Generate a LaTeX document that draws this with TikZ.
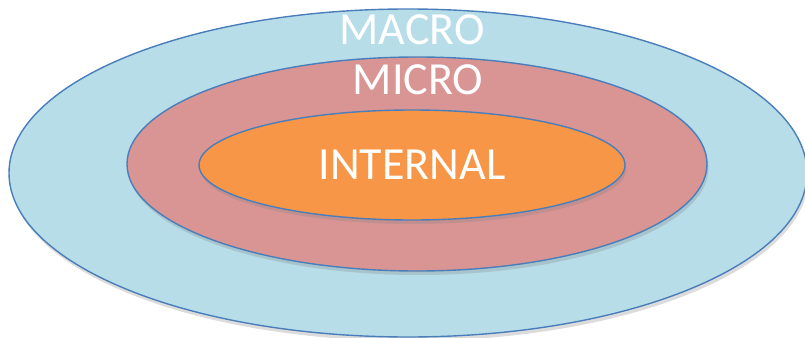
\documentclass[tikz,border=0pt]{standalone}
\usepackage{fontspec}
\setmainfont{Carlito}
\usepackage{xcolor}
\usetikzlibrary{shapes.geometric,shadows}

\definecolor{ringline}{HTML}{4A7EBB}
\definecolor{macrofill}{HTML}{B7DDE8}
\definecolor{microfill}{HTML}{D99594}
\definecolor{internalfill}{HTML}{F79646}

\begin{document}
\begin{tikzpicture}[x=1pt, y=-1pt,
    ring/.style={ellipse, draw=ringline, line width=1.4pt, inner sep=0pt,
        drop shadow={shadow xshift=1.5pt, shadow yshift=-4pt, opacity=0.28}},
    tag/.style={text=white, inner sep=0pt, font=\fontsize{46}{50}\selectfont}
]
    \useasboundingbox (0,0) rectangle (805,337);

    \node[ring, fill=macrofill, minimum width=798pt, minimum height=328pt] (macro) at (408,173) {};
    \node[ring, fill=microfill, minimum width=580pt, minimum height=214pt] (micro) at (417,164) {};
    \node[ring, fill=internalfill, minimum width=426pt, minimum height=110pt] (internal) at (412,165) {};

    \node[tag] (macrotxt) at (412,30) {MACRO};
    \node[tag] (microtxt) at (418,80) {MICRO};
    \node[tag] (internaltxt) at (412,165) {INTERNAL};
\end{tikzpicture}
\end{document}
